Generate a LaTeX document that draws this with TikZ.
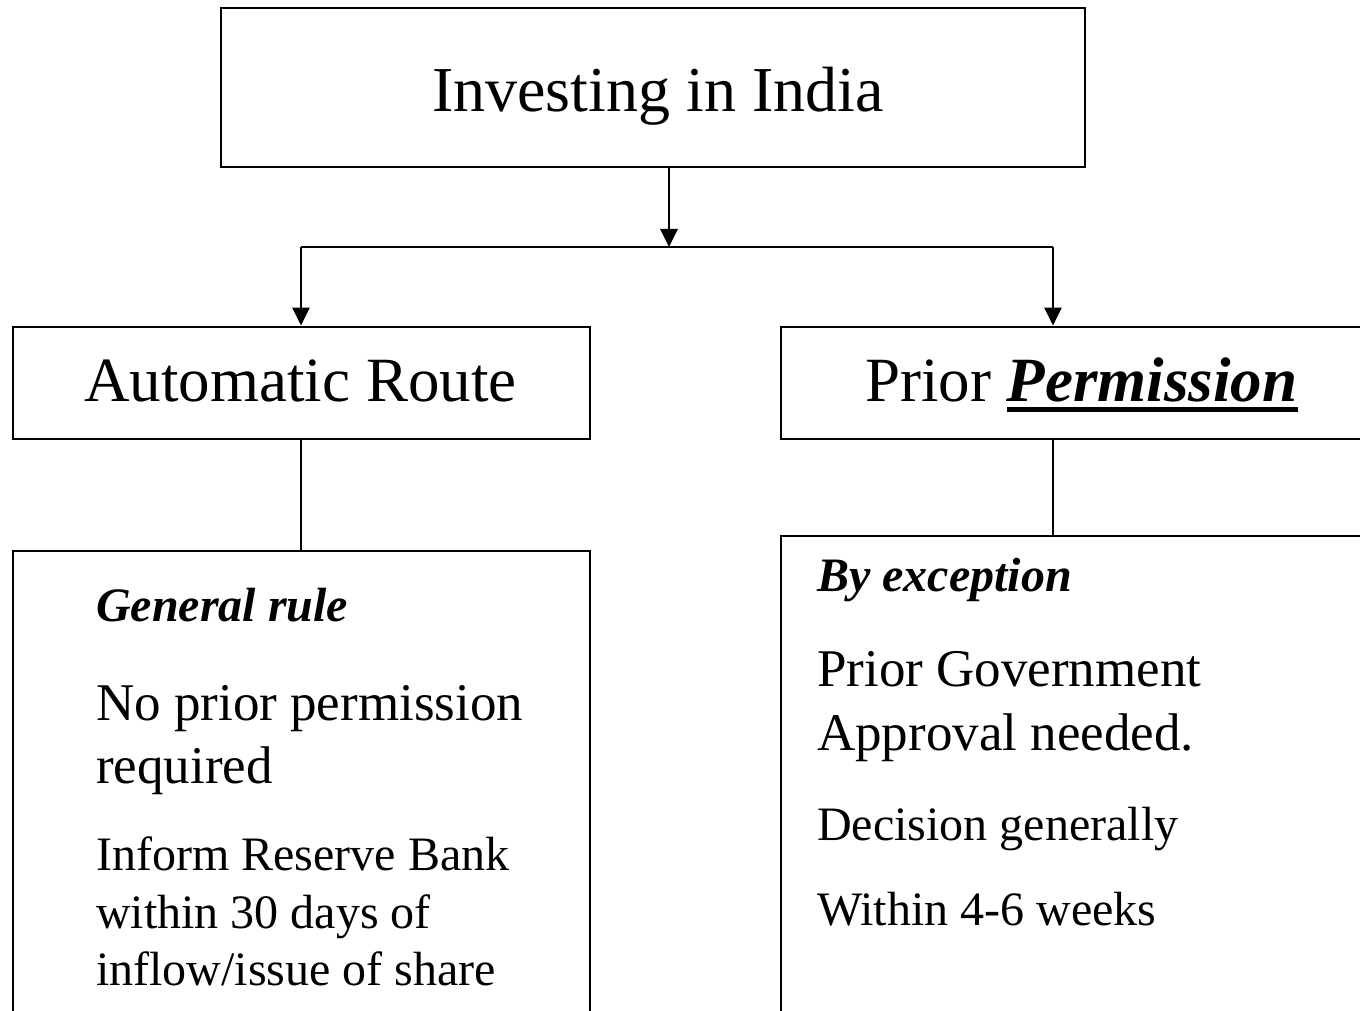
\documentclass[tikz,border=0pt]{standalone}
\usepackage{fontspec}
\setmainfont{Liberation Serif}
\usetikzlibrary{arrows.meta}
\newcommand\fs[1]{\fontsize{#1}{#1}\selectfont}
\newcommand\thickul[1]{\setbox0=\hbox{#1}\rlap{\raisebox{-11pt}{\rule{\wd0}{5pt}}}\box0}
\begin{document}
\begin{tikzpicture}[x=1pt,y=-1pt,
  boxline/.style={draw=black,line width=2.8pt,inner sep=0pt},
  conn/.style={line width=2.8pt},
  arr/.style={conn,-{Triangle[width=17pt,length=18pt]}},
  txt/.style={inner sep=0pt,anchor=base west},
  ctxt/.style={inner sep=0pt,anchor=base}]
\useasboundingbox (0,0) rectangle (1360,1011);
\clip (0,0) rectangle (1360,1011);
\fill[white] (0,0) rectangle (1360,1011);
% boxes
\node[boxline,minimum width=864pt,minimum height=159pt] (top) at (653,87.5) {};
\node[boxline,minimum width=577pt,minimum height=112pt] (auto) at (301.5,383) {};
\node[boxline,minimum width=603pt,minimum height=112pt] (prior) at (1082.5,383) {};
\node[boxline,minimum width=577pt,minimum height=520pt] (gen) at (301.5,811) {};
\node[boxline,minimum width=603pt,minimum height=520pt] (exc) at (1082.5,796) {};
% connectors
\coordinate (j) at (669,247);
\coordinate (jl) at (301,247);
\coordinate (jr) at (1053,247);
\draw[arr] (top.south -| j) -- (j);
\draw[conn] (jl) -- (jr);
\draw[arr] (jl) -- (auto.north -| jl);
\draw[arr] (jr) -- (prior.north -| jr);
\draw[conn] (auto.south -| jl) -- (gen.north -| jl);
\draw[conn] (prior.south -| jr) -- (exc.north -| jr);
% texts
\node[ctxt] (ttop) at (658,112) {\fs{64}Investing in India};
\node[ctxt] (tauto) at (300.5,401) {\fs{63}Automatic Route};
\node[txt] (tprior) at (865,401) {\fs{63}Prior \thickul{\textbf{\textit{Permission}}}};
\node[txt] (g1) at (96,621) {\fs{48}\textbf{\textit{General rule}}};
\node[txt] (g2) at (96,720) {\fs{53}No prior permission};
\node[txt] (g3) at (96,783) {\fs{53}required};
\node[txt] (g4) at (96,870) {\fs{48}Inform Reserve Bank};
\node[txt] (g5) at (96,928) {\fs{48}within 30 days of};
\node[txt] (g6) at (96,985) {\fs{48}inflow/issue of share};
\node[txt] (e1) at (817,591) {\fs{48}\textbf{\textit{By exception}}};
\node[txt] (e2) at (817,686) {\fs{53}Prior Government};
\node[txt] (e3) at (817,750) {\fs{53}Approval needed.};
\node[txt] (e4) at (817,840) {\fs{48}Decision generally};
\node[txt] (e5) at (817,925) {\fs{48}Within 4-6 weeks};
\end{tikzpicture}
\end{document}
